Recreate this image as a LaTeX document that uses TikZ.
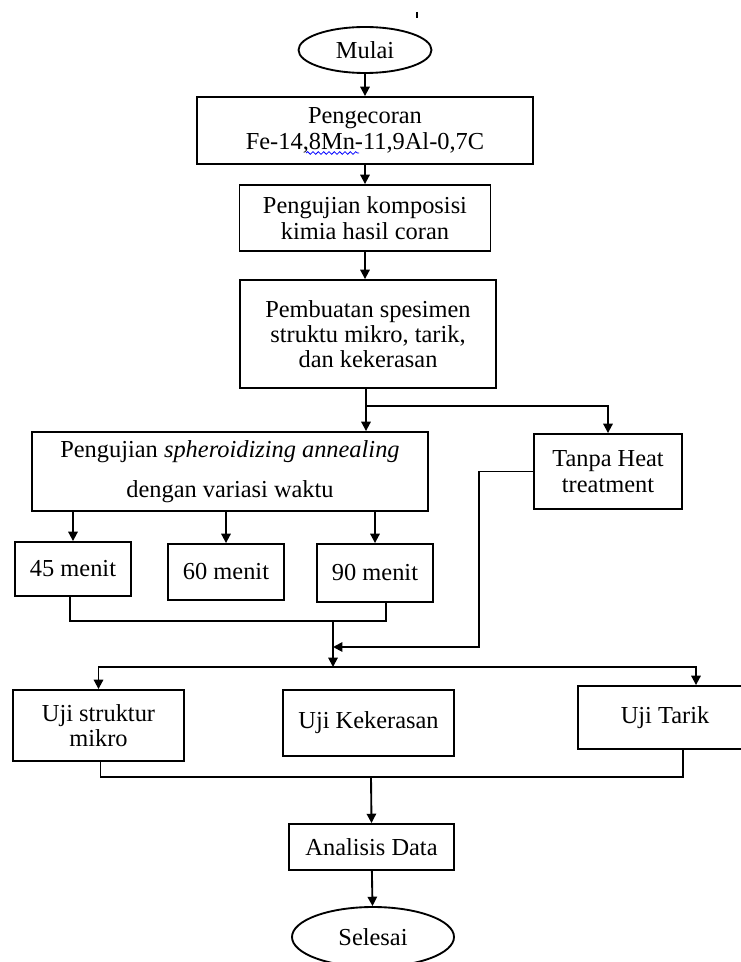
\documentclass[tikz,border=0pt]{standalone}
\usepackage{fontspec}
\setmainfont{Liberation Serif}
\usepackage{tikz}
\usetikzlibrary{calc}
\usetikzlibrary{arrows.meta}
\usetikzlibrary{shapes.geometric}
\usetikzlibrary{decorations.pathmorphing}

\begin{document}
\begin{tikzpicture}[x=0.75pt,y=-0.75pt,line width=1.4pt,
	every node/.style={font=\fontsize{18.3}{19}\selectfont},
	sz/.style 2 args={minimum width=0.75*#1pt,minimum height=0.75*#2pt},
	box/.style={draw,rectangle,align=center,inner sep=0pt},
	ends/.style={draw,ellipse,inner sep=0pt},
	arr/.style={-{Triangle[length=7pt,width=7pt]}}]
	% page frame of the picture
	\useasboundingbox (0,0) rectangle (740,962);
	\draw[line width=0.8pt] (417,12) -- (417,18);% small mark at the top
	% start and the first steps
	\node[ends,sz={133}{46}] (mulai) at (365,50) {Mulai};
	\node[box,sz={336}{67}] (cor) at (365,130.5) {Pengecoran\\Fe-14,8Mn-11,9Al-0,7C};
	\draw[blue,line width=0.6pt,decorate,decoration={snake,amplitude=1pt,segment length=4pt}] (306,153) -- (359,153);% underline of 8Mn
	\node[box,sz={251}{66}] (komp) at (365,218) {Pengujian komposisi\\kimia hasil coran};
	\node[box,sz={256}{108}] (buat) at (368,334) {Pembuatan spesimen\\struktu mikro, tarik,\\dan kekerasan};
	% two branches
	\node[box,sz={396}{79}] (spher) at (230,471.5) {Pengujian \textit{spheroidizing annealing}\\[11pt]dengan variasi waktu};
	\node[box,sz={148}{75}] (tanpa) at (608,471.5) {Tanpa Heat\\treatment};
	\node[box,sz={116}{54}] (m45) at (73,569) {45 menit};
	\node[box,sz={116}{56}] (m60) at (226,572) {60 menit};
	\node[box,sz={116}{58}] (m90) at (375,573) {90 menit};
	% the tests
	\node[box,sz={171}{71}] (struktur) at (98.5,725.5) {Uji struktur\\mikro};
	\node[box,sz={171}{66}] (keras) at (368.5,723) {Uji Kekerasan};
	\node[box,sz={174}{63}] (tarik) at (665,717.5) {Uji Tarik};
	\node[box,sz={165}{46}] (analisis) at (371.5,847) {Analisis Data};
	\node[ends,sz={162}{60}] (selesai) at (373,937) {Selesai};
	% junction points
	\coordinate (j1) at (366,406);
	\coordinate (j2) at (333,621);
	\coordinate (j3) at (333,667);
	\coordinate (k) at (479,647);
	\coordinate (j4) at (371,777);
	% connectors
	\draw[arr] (mulai) -- (cor);
	\draw[arr] (cor) -- (komp);
	\draw[arr] (komp) -- (komp |- buat.north);
	\draw (buat.south -| j1) -- (j1);
	\draw[arr] (j1) -- (j1 |- spher.north);
	\draw[arr] (j1) -| (tanpa.north);
	\draw[arr] (spher.south -| m45) -- (m45.north);
	\draw[arr] (spher.south -| m60) -- (m60.north);
	\draw[arr] (spher.south -| m90) -- (m90.north);
	\draw ($(m45.south)+(-3,0)$) |- ($(m90.south |- j2)+(11,0)$) -- ($(m90.south)+(11,0)$);% join of 45 and 90
	\draw[arr] (j2) -- (j3);
	\draw[arr] (tanpa.west) -| (k) -- (k -| j2);
	\draw[arr] (j3) -| (struktur.north);
	\draw[arr] (j3) -| ($(tarik.north)+(31,0)$);
	\draw ($(struktur.south)+(2,0)$) |- (j4) -| ($(tarik.south)+(18,0)$);
	\draw[arr] (j4) -- (analisis.north);
	\draw[arr] (analisis) -- (selesai);
\end{tikzpicture}
\end{document}
